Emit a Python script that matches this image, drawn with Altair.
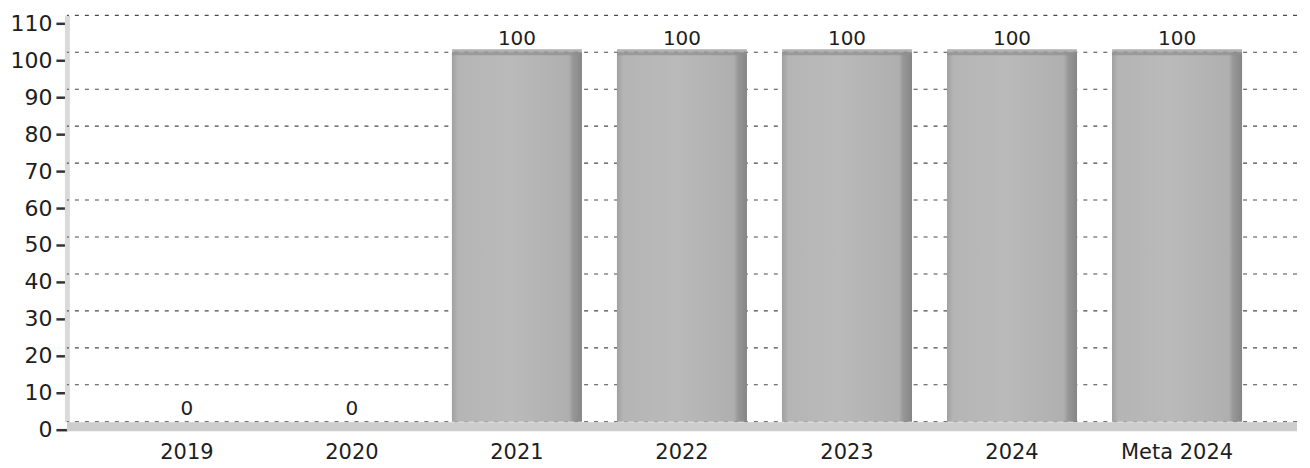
import altair as alt
import pandas as pd

categories = ["2019", "2020", "2021", "2022", "2023", "2024", "Meta 2024"]
values = [0, 0, 100, 100, 100, 100, 100]
y_ticks = [0, 10, 20, 30, 40, 50, 60, 70, 80, 90, 100, 110]

df = pd.DataFrame({"cat": categories, "v": values})
grid_df = pd.DataFrame({"g": y_ticks})

FONT = "DejaVu Sans"

yscale = alt.Scale(domain=[0, 110], nice=False, zero=True)
xscale = alt.Scale(domain=categories, paddingInner=0.212, paddingOuter=0.333)

yaxis = alt.Axis(
    values=y_ticks, tickCount=12, title=None, grid=False, labelOverlap=False, labelBound=False,
    domainColor="#dadada", domainWidth=5,
    tickColor="#333333", tickWidth=2.5, tickSize=11, tickOffset=8,
    labelFont=FONT, labelFontSize=22, labelColor="#1e1e1e", labelPadding=4,
)

grid = alt.Chart(grid_df).mark_rule(
    color="#4a4a4a", strokeWidth=1.1, strokeDash=[4, 6]
).encode(y=alt.Y("g:Q", scale=yscale, axis=yaxis))

floor = alt.Chart(grid_df).transform_filter("datum.g == 0").mark_rule(
    color="#cdcdcd", strokeWidth=9, yOffset=5
).encode(y=alt.Y("g:Q", scale=yscale, axis=yaxis), x=alt.value(0), x2=alt.value(1232))

bar_fill = alt.Gradient(
    gradient="linear", x1=0, x2=1, y1=0, y2=0,
    stops=[
        alt.GradientStop(color="#a0a0a0", offset=0),
        alt.GradientStop(color="#b5b5b5", offset=0.05),
        alt.GradientStop(color="#bababa", offset=0.45),
        alt.GradientStop(color="#afafaf", offset=0.9),
        alt.GradientStop(color="#989898", offset=0.93),
        alt.GradientStop(color="#858585", offset=1),
    ],
)

bars = alt.Chart(df).mark_bar(fill=bar_fill).encode(
    x=alt.X("cat:N", scale=xscale, sort=categories,
            axis=alt.Axis(title=None, domain=False, ticks=False, labelAngle=0,
                          labelFont=FONT, labelFontSize=21, labelColor="#1e1e1e",
                          labelPadding=20)),
    y=alt.Y("v:Q", scale=yscale, axis=yaxis),
)

top_face = alt.Chart(df).transform_filter("datum.v > 0").mark_tick(
    color="#8f8f8f", thickness=6, size=130
).encode(
    x=alt.X("cat:N", scale=xscale, sort=categories),
    y=alt.Y("v:Q", scale=yscale, axis=yaxis),
)

labels = alt.Chart(df).mark_text(
    font=FONT, fontSize=20, color="#1e1e1e", baseline="bottom", dy=-3
).encode(
    x=alt.X("cat:N", scale=xscale, sort=categories),
    y=alt.Y("v:Q", scale=yscale, axis=yaxis),
    text=alt.Text("v:Q"),
)

chart = alt.layer(grid, floor, bars, top_face, labels).properties(
    width=1232, height=407,
    padding={"left": 2, "top": 4, "right": 0, "bottom": 0},
).configure_view(stroke=None)

chart.save("out.html", embed_options={"renderer": "svg", "actions": False})
